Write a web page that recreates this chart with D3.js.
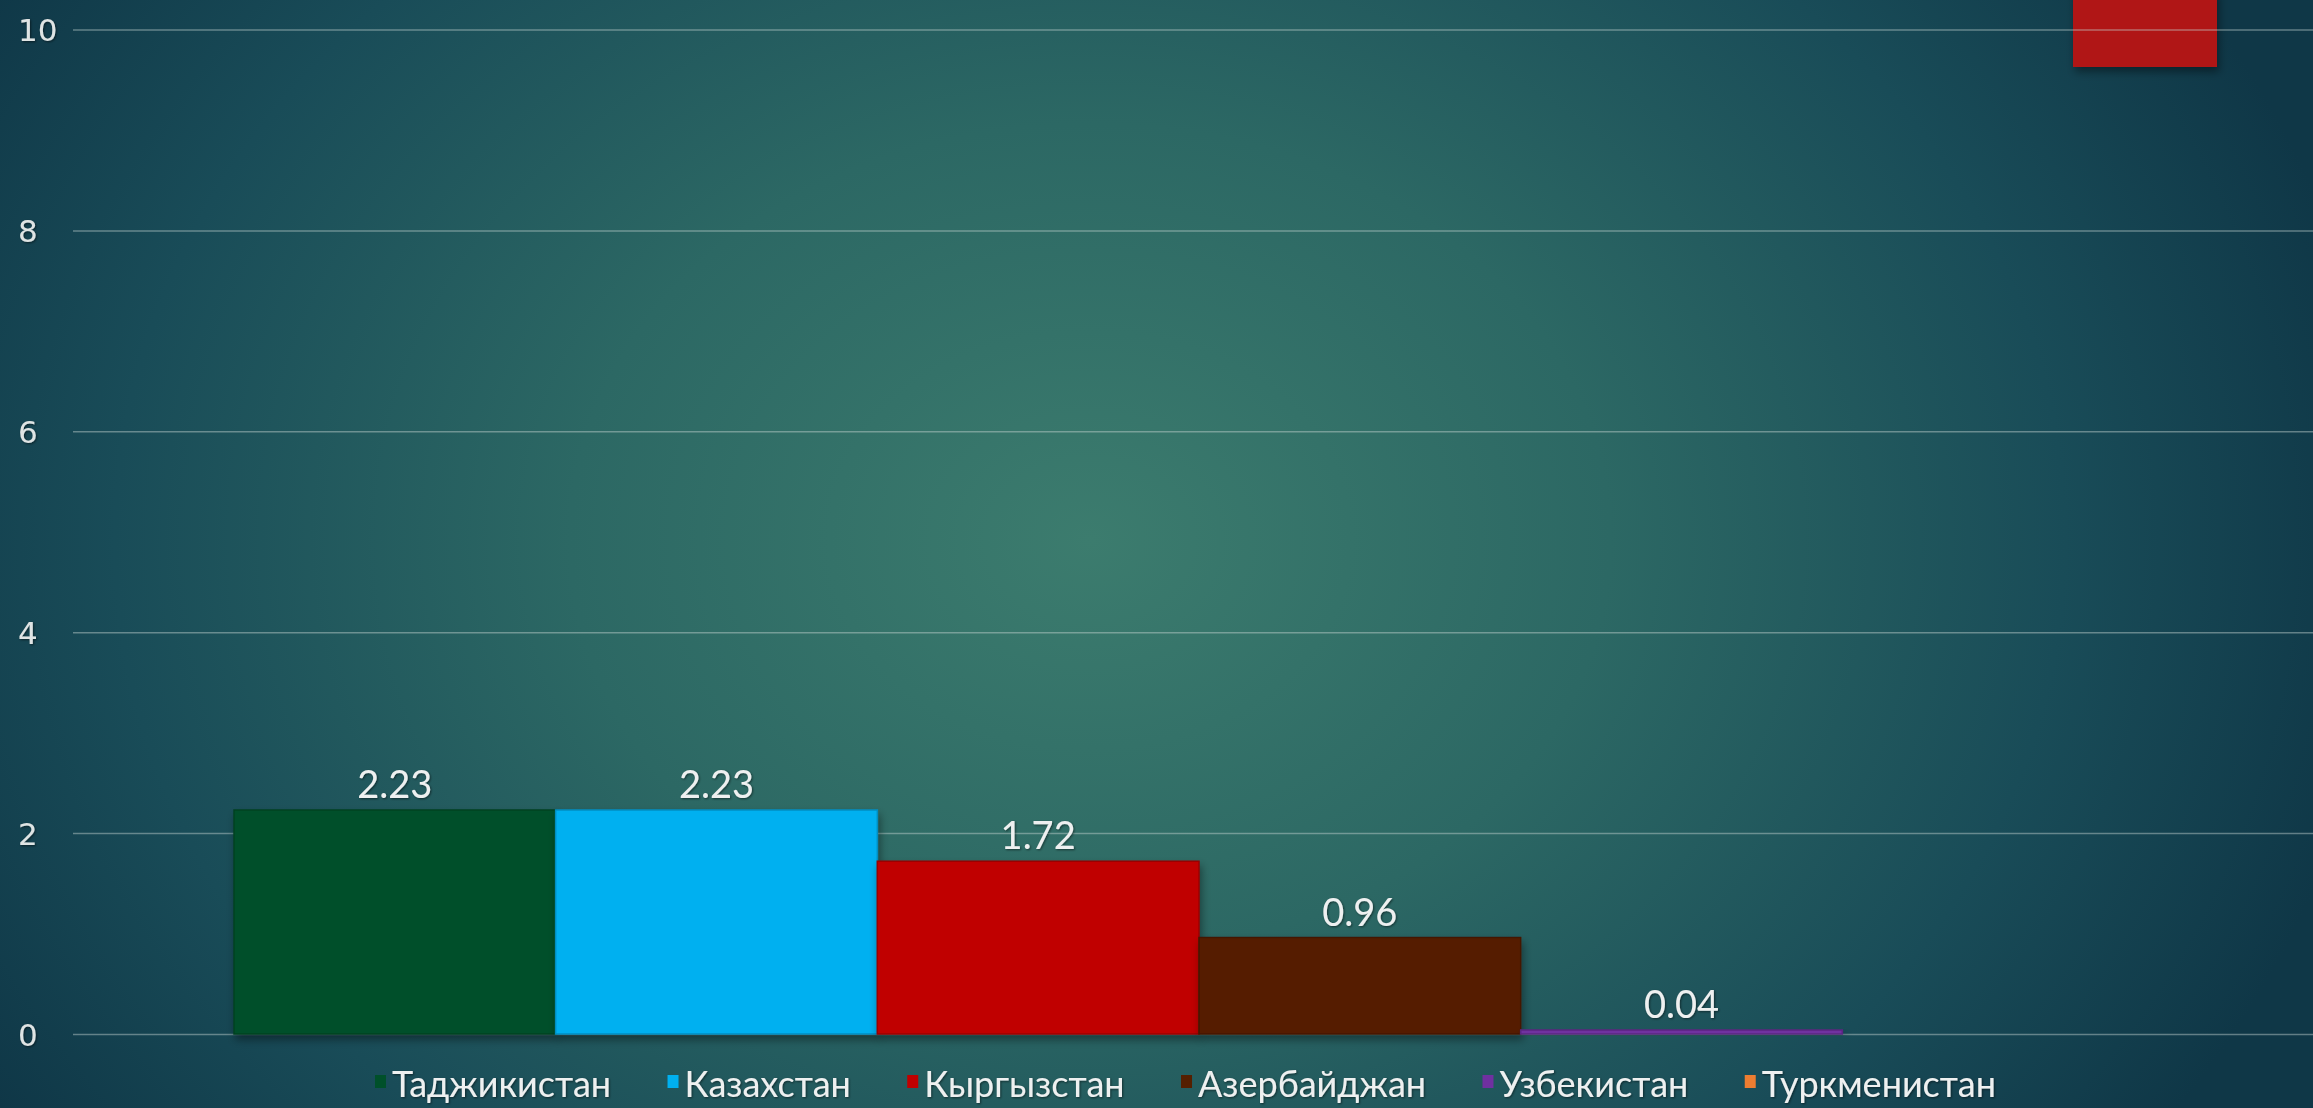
<!DOCTYPE html>
<html><head><meta charset="utf-8">
<script src="https://cdn.jsdelivr.net/npm/d3@7"></script>
<style>
html,body{margin:0;padding:0;overflow:hidden;background:#1b4d58;}
svg{display:block;font-family:Lato,"Noto Sans",sans-serif;}
</style></head>
<body>
<svg id="chart" width="2313" height="1108"></svg>
<script>
const countries = ["Таджикистан","Казахстан","Кыргызстан","Азербайджан","Узбекистан","Туркменистан"];
const values = [2.23, 2.23, 1.72, 0.96, 0.04, null];
const colors = ["#00502a","#00b0f0","#c00000","#551f00","#7030a0","#ed7d31"];
const yTicks = [0,2,4,6,8,10];

const W = 2313, H = 1108;
const svg = d3.select("#chart");
const defs = svg.append("defs");

const rg = defs.append("radialGradient").attr("id","bg")
  .attr("gradientUnits","userSpaceOnUse")
  .attr("cx",1090).attr("cy",540).attr("r",1300)
  .attr("gradientTransform","translate(1090,540) scale(1,0.8) translate(-1090,-540)");
rg.append("stop").attr("offset","0").attr("stop-color","#3c7c6e");
rg.append("stop").attr("offset","0.4").attr("stop-color","#2c6864");
rg.append("stop").attr("offset","0.75").attr("stop-color","#194c58");
rg.append("stop").attr("offset","1").attr("stop-color","#0f3747");

const sh = defs.append("filter").attr("id","shadow").attr("x","-20%").attr("y","-20%").attr("width","140%").attr("height","150%");
sh.append("feDropShadow").attr("dx",2).attr("dy",5).attr("stdDeviation",4).attr("flood-color","#000").attr("flood-opacity",0.4);
const tsh = defs.append("filter").attr("id","tshadow").attr("x","-10%").attr("y","-20%").attr("width","120%").attr("height","150%");
tsh.append("feDropShadow").attr("dx",1).attr("dy",1).attr("stdDeviation",1).attr("flood-color","#000").attr("flood-opacity",0.5);

svg.append("rect").attr("width",W).attr("height",H).attr("fill","url(#bg)");

// decorative slide accent (top right)
svg.append("rect").attr("x",2073).attr("y",-10).attr("width",144).attr("height",77)
  .attr("fill","#b01616").attr("filter","url(#shadow)");

const plotLeft = 73, plotRight = 2313;
const y = d3.scaleLinear().domain([0,10]).range([1034, 29.5]);
const x = d3.scaleBand().domain(countries).range([234, 2164]).paddingInner(0).paddingOuter(0);

// y axis with gridlines
const yAxis = svg.append("g").attr("transform",`translate(${plotLeft},0)`)
  .call(d3.axisLeft(y).tickValues(yTicks).tickFormat(d3.format("d")).tickSize(-(plotRight-plotLeft)).tickPadding(0));
yAxis.select(".domain").remove();
yAxis.selectAll(".tick line").attr("stroke","#c8d4d2").attr("stroke-opacity",0.45).attr("stroke-width",1.5);
yAxis.selectAll(".tick text").attr("x",18-plotLeft).attr("text-anchor","start")
  .attr("fill","#dfe4e4").style("font-family","'DejaVu Sans',sans-serif").style("font-size","31px")
  .attr("dy","0.36em").attr("filter","url(#tshadow)");

// bars
const bars = svg.append("g");
bars.selectAll("rect").data(countries.map((c,i)=>({c, v: values[i], col: colors[i]})).filter(d=>d.v!=null))
  .join("rect")
  .attr("x", d=>x(d.c)).attr("width", x.bandwidth())
  .attr("y", d=>y(d.v)).attr("height", d=>y(0)-y(d.v))
  .attr("fill", d=>d.col)
  .attr("stroke", d=>d3.color(d.col).darker(0.6)).attr("stroke-width",1.5)
  .attr("filter","url(#shadow)");

// data labels
svg.append("g").selectAll("text").data(countries.map((c,i)=>({c, v: values[i]})).filter(d=>d.v!=null))
  .join("text")
  .attr("x", d=>x(d.c)+x.bandwidth()/2)
  .attr("y", d=>y(d.v)-12)
  .attr("text-anchor","middle")
  .attr("fill","#eef0f0").style("font-size","38px")
  .attr("filter","url(#tshadow)")
  .text(d=>d3.format(".2f")(d.v));

// legend
const lg = svg.append("g");
const items = lg.selectAll("g").data(countries.map((c,i)=>({c,col:colors[i]}))).join("g");
items.append("rect").attr("width",11).attr("height",13).attr("y",-22).attr("fill",d=>d.col);
items.append("text").attr("x",17).attr("y",0).attr("fill","#eef0f0").style("font-size","36px")
  .attr("filter","url(#tshadow)").text(d=>d.c);
const widths = [];
items.each(function(){ widths.push(this.getBBox().width); });
const legendLeft = 375, legendRight = 1996;
const gap = (legendRight - legendLeft - d3.sum(widths)) / (widths.length - 1);
let cx = legendLeft; const pos = [];
widths.forEach(w => { pos.push(cx); cx += w + gap; });
items.attr("transform",(d,i)=>`translate(${pos[i]},1097)`);
</script>
</body></html>
